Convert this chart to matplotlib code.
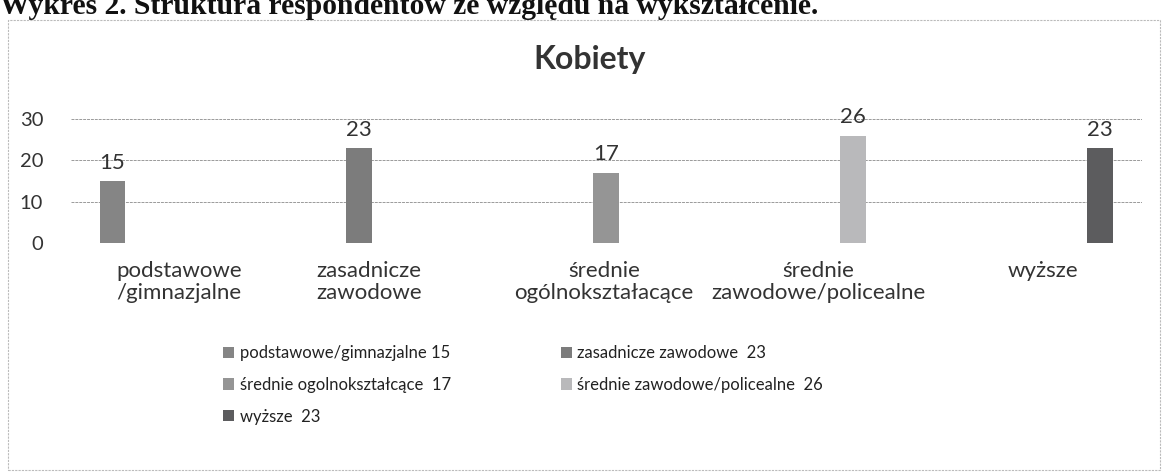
import matplotlib.pyplot as plt
from matplotlib.patches import Rectangle, Patch

plt.rcParams['font.family'] = ['Lato', 'DejaVu Sans']

# dane
kategorie = ['podstawowe\n/gimnazjalne', 'zasadnicze\nzawodowe', 'średnie\nogólnokształacące',
             'średnie\nzawodowe/policealne', 'wyższe']
legenda = ['podstawowe/gimnazjalne', 'zasadnicze zawodowe ', 'średnie ogolnokształcące ',
           'średnie zawodowe/policealne ', 'wyższe ']
wartosci = [15, 23, 17, 26, 23]
kolory = ['#858585', '#7c7c7c', '#959595', '#b9b9bb', '#5c5c5e']
przesuniecia_etykiet = [0.27, 0.04, -0.01, -0.14, -0.23]

fig = plt.figure(figsize=(11.62, 4.74), dpi=100)

# naglowek (uciety u gory jak na skanie)
fig.text(0.0, 1 - 14 / 474, 'Wykres 2. Struktura respondentów ze względu na wykształcenie.',
         family='Liberation Serif', weight='bold', fontsize=21.3, va='baseline', ha='left', color='#111111')

# ramka wykresu
fig.patches.append(Rectangle((8 / 1162, 4 / 474), 1152 / 1162, 450 / 474, transform=fig.transFigure,
                             fill=False, edgecolor='#bbbbbb', linewidth=0.8, linestyle=(0, (2, 1))))

ax = fig.add_axes([71 / 1162, 1 - 243 / 474, 1071 / 1162, 124 / 474])
x = list(range(len(wartosci)))
ax.bar(x, wartosci, width=0.105, color=kolory, zorder=3)
for i, v in enumerate(wartosci):
    ax.text(i, v + 2.0, str(v), ha='center', va='bottom', fontsize=16, color='#333333', zorder=4)

ax.set_xlim(-0.168, 4.17)
ax.set_ylim(0, 30)
ax.set_yticks([0, 10, 20, 30])
ax.yaxis.grid(True, color='#9a9a9a', linestyle=(0, (3, 1)), linewidth=0.7, zorder=0)
ax.set_xticks([i + d for i, d in zip(x, przesuniecia_etykiet)])
ax.set_xticklabels(kategorie, fontsize=16, color='#333333', linespacing=1.1)
ax.tick_params(axis='y', labelsize=14.5, labelcolor='#333333', length=0, pad=20)
ax.tick_params(axis='x', length=0, pad=13)
for s in ax.spines.values():
    s.set_visible(False)

fig.text(590 / 1162, 1 - 60 / 474, 'Kobiety', fontsize=23, weight='bold', color='#333333',
         ha='center', va='center')

uchwyty = [Patch(facecolor=k, edgecolor='none') for k in kolory]
etykiety = [f'{n} {v}' for n, v in zip(legenda, wartosci)]
kolejnosc = [0, 2, 4, 1, 3]
fig.legend([uchwyty[i] for i in kolejnosc], [etykiety[i] for i in kolejnosc], ncol=2,
           loc='upper left', bbox_to_anchor=(223 / 1162, 1 - 345 / 474), frameon=False,
           fontsize=12, labelcolor='#222222', handlelength=0.65, handleheight=0.65,
           handletextpad=0.35, labelspacing=0.95, columnspacing=6.6, borderpad=0, borderaxespad=0)

fig.savefig('out.png', dpi=100)
